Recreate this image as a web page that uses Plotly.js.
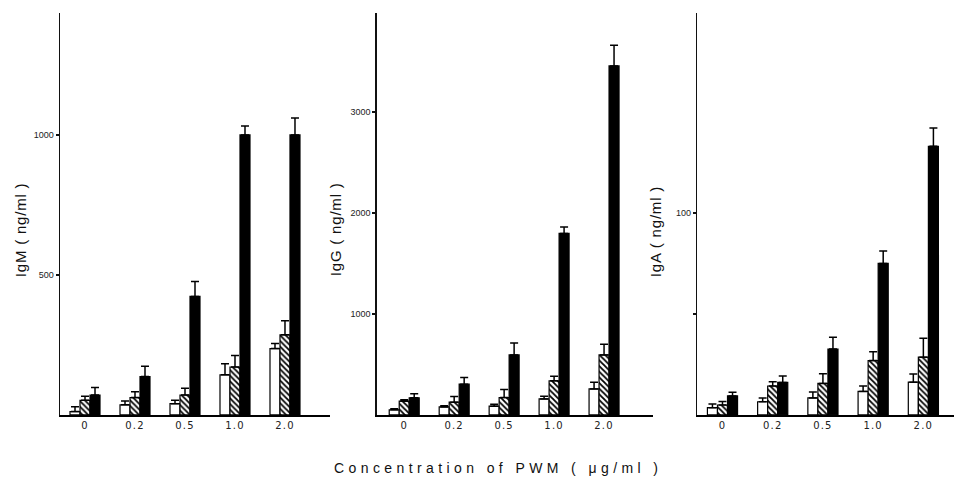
<!DOCTYPE html>
<html>
<head>
<meta charset="utf-8">
<script src="https://cdn.plot.ly/plotly-3.0.1.min.js"></script>
<style>
html,body{margin:0;padding:0;background:#fff;}
#chart{width:954px;height:478px;}
.xtick text, .x2tick text, .x3tick text{letter-spacing:1.2px;}
.annotation[data-index="0"] text,
.annotation[data-index="1"] text,
.annotation[data-index="2"] text{letter-spacing:0.8px;}
.annotation[data-index="3"] text{letter-spacing:4.4px;}
</style>
</head>
<body>
<div id="chart"></div>
<script>
// Categories (PWM concentration, µg/ml)
const categories = ['0', '0.2', '0.5', '1.0', '2.0'];

// IgM (ng/ml)
const igmWhite = [12, 36, 40, 143, 237];
const igmWhiteErr = [17, 14, 12, 40, 18];
const igmHatch = [52, 62, 71, 171, 286];
const igmHatchErr = [15, 21, 24, 41, 50];
const igmBlack = [71, 137, 423, 1000, 1000];
const igmBlackErr = [27, 37, 53, 32, 60];

// IgG (ng/ml)
const iggWhite = [50, 79, 86, 158, 257];
const iggWhiteErr = [10, 11, 20, 27, 66];
const iggHatch = [136, 126, 172, 337, 594];
const iggHatchErr = [14, 56, 79, 46, 106];
const iggBlack = [170, 304, 594, 1797, 3455];
const iggBlackErr = [40, 66, 119, 63, 205];

// IgA (ng/ml)
const igaWhite = [3.6, 6.5, 8.4, 11.6, 16.2];
const igaWhiteErr = [1.8, 1.9, 2.9, 2.7, 4.0];
const igaHatch = [4.9, 14.3, 15.6, 26.9, 28.6];
const igaHatchErr = [1.7, 2.1, 4.8, 4.4, 9.4];
const igaBlack = [9.4, 16.1, 32.6, 75, 133];
const igaBlackErr = [1.8, 3.1, 5.9, 6.1, 9];

// Axis titles and tick labels
const yTitles = ['IgM ( ng/ml )', 'IgG ( ng/ml )', 'IgA ( ng/ml )'];
const xTitle = 'Concentration of PWM ( μg/ml )';
const igmTicks = [500, 1000];
const iggTicks = [1000, 2000, 3000];
const igaTicks = [50, 100];
const igaTickText = ['', '100'];

const zeros = categories.map(() => 0);

function errBar(arr) {
  return {type: 'data', symmetric: false, array: arr, arrayminus: zeros,
          color: '#000', thickness: 1.5, width: 4, visible: true};
}
function styleWhite() {
  return {color: '#fff', line: {color: '#000', width: 1.2}};
}
function styleHatch() {
  return {color: '#fff', line: {color: '#000', width: 1.2},
          pattern: {shape: '\\', fgcolor: '#000', bgcolor: '#fff', size: 4, solidity: 0.45}};
}
function styleBlack() {
  return {color: '#000', line: {color: '#000', width: 1.2}};
}

const xIdx = categories.map((c, i) => i);

function group(xa, ya, w, we, h, he, b, be) {
  return [
    {type: 'bar', x: xIdx, y: w, error_y: errBar(we), marker: styleWhite(), xaxis: xa, yaxis: ya, showlegend: false, hoverinfo: 'y'},
    {type: 'bar', x: xIdx, y: h, error_y: errBar(he), marker: styleHatch(), xaxis: xa, yaxis: ya, showlegend: false, hoverinfo: 'y'},
    {type: 'bar', x: xIdx, y: b, error_y: errBar(be), marker: styleBlack(), xaxis: xa, yaxis: ya, showlegend: false, hoverinfo: 'y'}
  ];
}

const data = [].concat(
  group('x', 'y', igmWhite, igmWhiteErr, igmHatch, igmHatchErr, igmBlack, igmBlackErr),
  group('x2', 'y2', iggWhite, iggWhiteErr, iggHatch, iggHatchErr, iggBlack, iggBlackErr),
  group('x3', 'y3', igaWhite, igaWhiteErr, igaHatch, igaHatchErr, igaBlack, igaBlackErr)
);

const yDom = [0.132, 0.972];
const tickFont = {family: 'Liberation Sans, Arial, sans-serif', size: 9, color: '#222'};
const xTickFont = {family: 'DejaVu Sans, sans-serif', size: 10, color: '#222'};

function xAxis(domain, range, anchor) {
  return {domain: domain, range: range, anchor: anchor, showline: true, linecolor: '#000', linewidth: 2,
          showgrid: false, zeroline: false, ticks: '', tickmode: 'array', tickvals: xIdx, ticktext: categories,
          tickfont: xTickFont, fixedrange: true};
}
function yAxis(range, anchor, tickvals, ticktext) {
  return {domain: yDom, range: range, anchor: anchor, showline: true, linecolor: '#111', linewidth: 1.5,
          showgrid: false, zeroline: false, ticks: 'outside', ticklen: 3, tickwidth: 1.5, tickcolor: '#111',
          tickmode: 'array', tickvals: tickvals, ticktext: ticktext || tickvals.map(String),
          tickfont: tickFont, fixedrange: true};
}

const titleFont = {family: 'Liberation Sans, Arial, sans-serif', size: 15, color: '#111'};

const layout = {
  width: 954, height: 478,
  margin: {l: 0, r: 0, t: 0, b: 0},
  paper_bgcolor: '#fff', plot_bgcolor: '#fff',
  barmode: 'group', bargap: 0.4, bargroupgap: 0,
  xaxis: xAxis([0.0629, 0.3459], [-0.5, 4.9], 'y'),
  yaxis: yAxis([0, 1434], 'x', igmTicks),
  xaxis2: xAxis([0.3949, 0.6845], [-0.55, 4.98], 'y2'),
  yaxis2: yAxis([0, 3975], 'x2', iggTicks),
  xaxis3: xAxis([0.731, 1.0], [-0.5, 4.61], 'y3'),
  yaxis3: yAxis([0, 198.8], 'x3', igaTicks, igaTickText),
  annotations: [
    {text: yTitles[0], xref: 'paper', yref: 'paper', x: 20 / 954, y: 1 - 230 / 478, textangle: -90,
     showarrow: false, font: titleFont, xanchor: 'center', yanchor: 'middle'},
    {text: yTitles[1], xref: 'paper', yref: 'paper', x: 335 / 954, y: 1 - 230 / 478, textangle: -90,
     showarrow: false, font: titleFont, xanchor: 'center', yanchor: 'middle'},
    {text: yTitles[2], xref: 'paper', yref: 'paper', x: 656 / 954, y: 1 - 232 / 478, textangle: -90,
     showarrow: false, font: titleFont, xanchor: 'center', yanchor: 'middle'},
    {text: xTitle, xref: 'paper', yref: 'paper', x: 498 / 954, y: 1 - 468 / 478,
     showarrow: false, font: {family: 'Liberation Sans, Arial, sans-serif', size: 14, color: '#111'},
     xanchor: 'center', yanchor: 'middle'}
  ]
};

Plotly.newPlot('chart', data, layout, {staticPlot: true, displayModeBar: false});
</script>
</body>
</html>
